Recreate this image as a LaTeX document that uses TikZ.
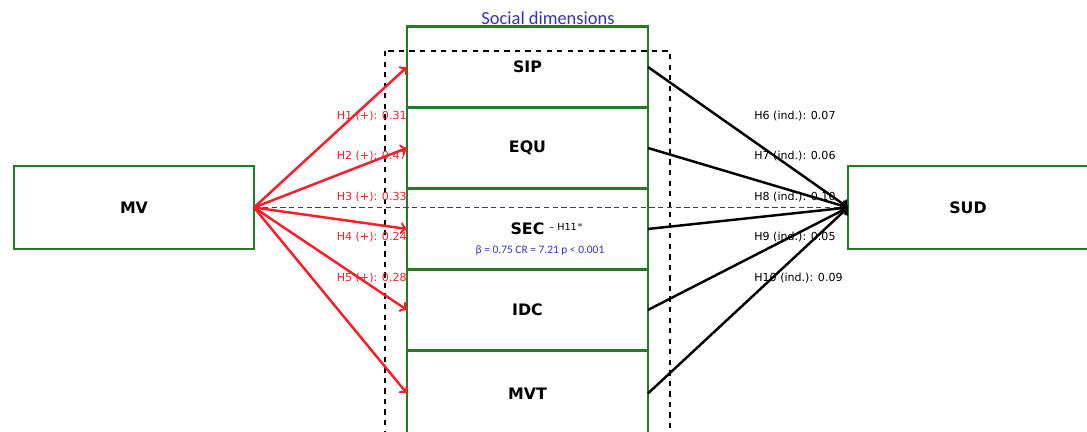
\documentclass[tikz,border=0pt]{standalone}
\usepackage{fontspec}
\setmainfont{DejaVu Sans}
\newfontfamily\calfont{Carlito}
\usetikzlibrary{positioning}
\definecolor{boxgreen}{RGB}{40,120,40}
\definecolor{dimblue}{RGB}{50,50,190}
\definecolor{hypred}{RGB}{255,30,40}

\begin{document}
\begin{tikzpicture}[x=0.02cm,y=-0.02cm,
  box/.style={draw=boxgreen,line width=1.3pt,minimum width=4.82cm,minimum height=1.62cm,inner sep=0pt,outer sep=0pt,font=\bfseries\fontsize{9}{10}\selectfont},
  bigbox/.style={box,minimum width=4.8cm,minimum height=1.66cm},
  redarr/.style={->,hypred,line width=1.4pt},
  blkarr/.style={->,black,line width=1.4pt},
  hred/.style={anchor=east,hypred,font=\fontsize{6.3}{7}\selectfont,inner sep=0pt},
  hblk/.style={anchor=west,font=\fontsize{6.3}{7}\selectfont,inner sep=0pt}]
  \useasboundingbox (0,0) rectangle (1087,432);
  \node[bigbox] (mv) at (134,207.5) {MV};
  \node[bigbox] (sud) at (968,207.5) {SUD};
  \node[box] (sip) at (527.5,67) {SIP};
  \node[box,below=0pt of sip] (equ) {EQU};
  \node[box,below=0pt of equ] (sec) {SEC};
  \node[box,below=0pt of sec] (idc) {IDC};
  \node[box,below=0pt of idc,minimum height=1.72cm] (mvt) {MVT};
  \node[dimblue,font=\calfont\fontsize{10.5}{11}\selectfont,inner sep=0pt] (soc) at (548,18) {Social dimensions};
  \node[anchor=west,font=\fontsize{5.5}{6}\selectfont,inner sep=0pt] (h11) at (549,227) {-- H11$^{*}$};
  \node[dimblue,font=\calfont\fontsize{6.5}{7}\selectfont,inner sep=0pt] (beta) at (540,251) {β = 0.75 CR = 7.21 p < 0.001};
  \draw[dashed,line width=1pt] (385,51) rectangle (670,445);
  \draw[densely dashed,gray!50!black,line width=0.8pt] (mv.east) -- (sud.west);
  \foreach \b in {sip,equ,sec,idc,mvt}{
    \draw[redarr] (mv.east) -- (\b.west);
    \draw[blkarr] (\b.east) -- (sud.west);
  }
  \foreach \i/\v/\y in {1/0.31/116,2/0.47/156,3/0.33/197,4/0.24/237,5/0.28/278}
    \node[hred] (hr\i) at (407,\y) {H\i{} (+): \v};
  \foreach \i/\v/\y in {6/0.07/116,7/0.06/156,8/0.10/197,9/0.05/237,10/0.09/278}
    \node[hblk] (hb\i) at (754,\y) {H\i{} (ind.): \v};
\end{tikzpicture}
\end{document}
